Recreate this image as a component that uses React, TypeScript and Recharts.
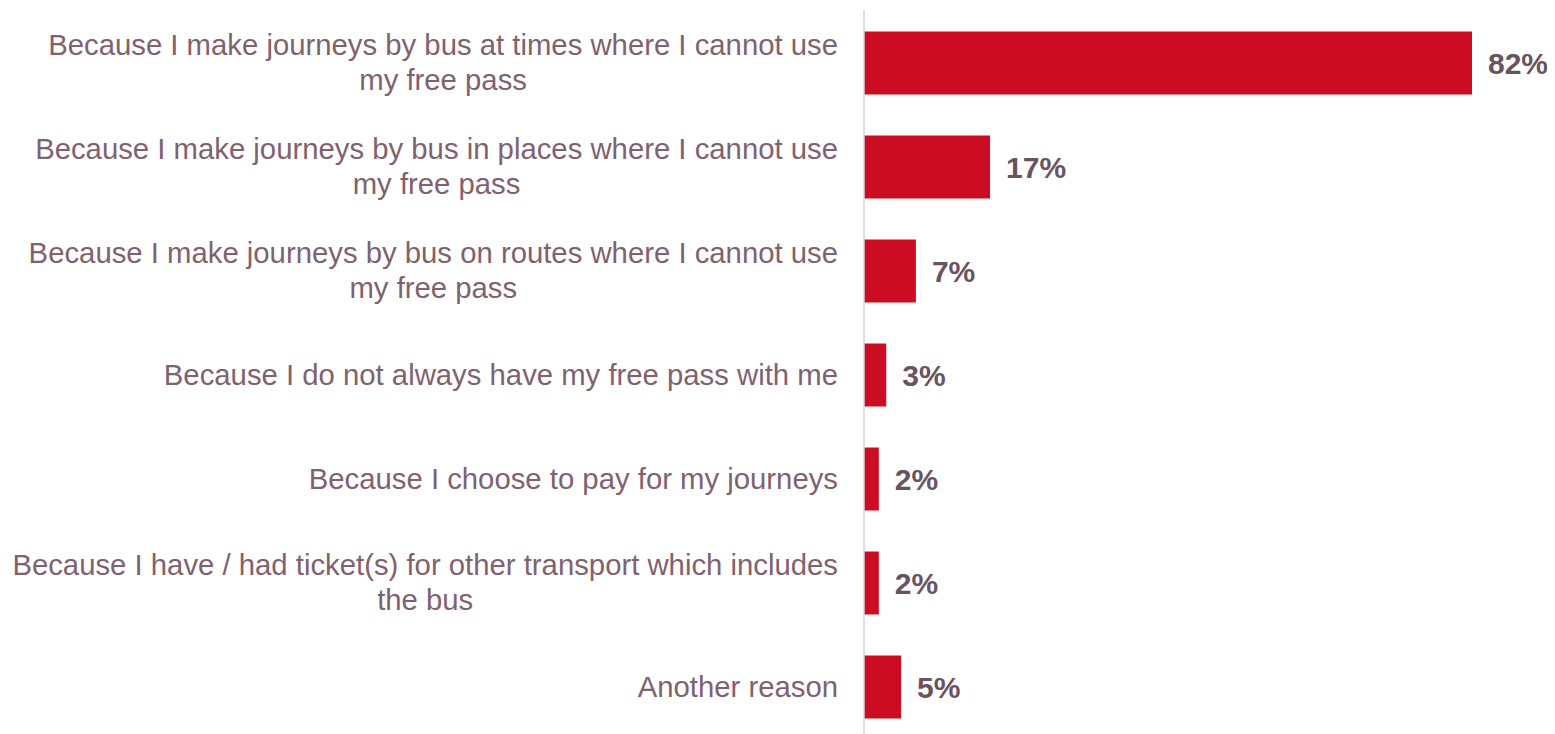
import React from "react";
import { BarChart, Bar, XAxis, YAxis, LabelList } from "recharts";

const categories = [
  "Because I make journeys by bus at times where I cannot use my free pass",
  "Because I make journeys by bus in places where I cannot use my free pass",
  "Because I make journeys by bus on routes where I cannot use my free pass",
  "Because I do not always have my free pass with me",
  "Because I choose to pay for my journeys",
  "Because I have / had ticket(s) for other transport which includes the bus",
  "Another reason",
];
const values = [82, 17, 7, 3, 2, 2, 5];

const data = categories.map((label, i) => ({ label, value: values[i] }));

const LABEL_SIZE = 29.3;
const FONT = "'Liberation Sans', Arial, Helvetica, sans-serif";
const LABEL_RIGHT = 830;
const LINE_H = 34.8;
const WRAP_MAX = 831;

let ctx: CanvasRenderingContext2D | null = null;
function measure(t: string): number {
  if (!ctx && typeof document !== "undefined") {
    ctx = document.createElement("canvas").getContext("2d");
  }
  if (!ctx) return t.length * LABEL_SIZE * 0.5;
  ctx.font = `${LABEL_SIZE}px ${FONT}`;
  return ctx.measureText(t).width;
}

function wrap(text: string, max: number): string[] {
  const words = text.split(" ");
  const lines: string[] = [];
  let cur = "";
  for (const w of words) {
    const test = cur ? cur + " " + w : w;
    if (cur && measure(test) > max) {
      lines.push(cur);
      cur = w;
    } else {
      cur = test;
    }
  }
  if (cur) lines.push(cur);
  return lines;
}

const CategoryTick = (props: any) => {
  const { y, payload } = props;
  const lines = wrap(String(payload.value), WRAP_MAX);
  const W = Math.max(...lines.map(measure));
  const cx = LABEL_RIGHT - W / 2;
  const startY = y - ((lines.length - 1) * LINE_H) / 2;
  return (
    <text
      fill="#80626F"
      fontSize={LABEL_SIZE}
      fontFamily={FONT}
      textAnchor="middle"
    >
      {lines.map((l, i) => (
        <tspan key={i} x={cx} y={startY + i * LINE_H} dy="0.35em">
          {l}
        </tspan>
      ))}
    </text>
  );
};

export default function App() {
  return (
    <div>
      <style>{`html{overflow:hidden} .recharts-surface{overflow:visible}`}</style>
      <BarChart
        width={1547}
        height={740}
        data={data}
        layout="vertical"
        margin={{ top: 2.5, right: 83, left: 0, bottom: 9.5 }}
      >
        <XAxis type="number" domain={[0, 82]} hide />
        <YAxis
          type="category"
          dataKey="label"
          width={856}
          axisLine={{ stroke: "#D9D4D7", strokeWidth: 1.5 }}
          tickLine={false}
          tick={<CategoryTick />}
          interval={0}
        />
        <Bar dataKey="value" fill="#CC0C22" barSize={63} isAnimationActive={false}>
          <LabelList
            dataKey="value"
            position="right"
            offset={16}
            formatter={(v: any) => `${v}%`}
            fill="#6A5361"
            fontSize={30}
            fontWeight="bold"
            fontFamily={FONT}
          />
        </Bar>
      </BarChart>
    </div>
  );
}
